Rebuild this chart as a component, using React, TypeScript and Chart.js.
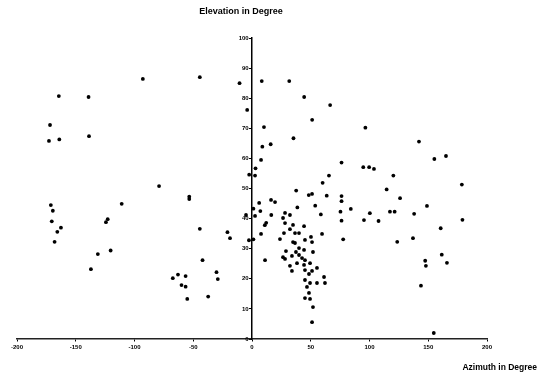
import React, { useEffect, useRef } from "react";
import { Chart, registerables } from "chart.js";

Chart.register(...registerables);

const chartTitle = "Elevation in Degree";
const xAxisTitle = "Azimuth in Degree";

const azimuth: number[] = [
  -92.9, -44.4, -10.6, 8.3, 31.7, -164.4, -139.1, 44.4, 66.5, -4.1,
  51.2, -171.9, 10.2, 96.5, -138.7, 35.3, -172.8, -164.0, 142.1, 15.9,
  8.8, 165.1, 155.2, 7.7, 76.2, 94.7, 99.7, 103.8, 3.0, -2.4,
  2.6, 65.5, 120.3, 60.1, 178.6, -79.1, 37.6, 114.6, -53.4, -53.4,
  51.1, 48.3, 63.6, 76.2, 76.2, 16.2, 19.6, 6.1, 126.0, -171.2,
  -110.9, 53.8, 148.9, 1.2, 38.6, 84.1, -169.5, 7.1, 75.3, 117.4,
  121.4, 100.3, 138.0, 58.6, -5.1, 2.6, 16.4, -122.8, -124.3, -170.4,
  76.2, 95.3, 107.7, 179.1, 12.1, 10.9, -162.6, -165.7, -44.4, 160.6,
  -20.9, -18.7, 7.7, -2.6, 1.2, 77.6, 123.6, 137.0, -168.0, -131.2,
  -120.3, -137.1, -42.1, -30.2, -29.1, -67.4, -63.0, -56.5, -60.0, -56.5,
  -55.1, -37.3, 11.1, 147.4, 148.0, 161.5, 165.9, 143.8, 154.7, 28.1,
  32.3, 26.4, 28.1, 34.9, 44.3, 27.2, 32.3, 36.6, 40.0, 59.6,
  23.8, 34.9, 45.1, 50.2, 51.1, 36.6, 40.0, 28.9, 37.4, 44.3,
  51.9, 26.4, 34.0, 40.0, 42.6, 28.1, 45.1, 32.3, 38.3, 44.3,
  49.4, 55.3, 34.0, 45.1, 51.1, 48.5, 61.3, 62.1, 45.1, 49.4,
  55.3, 46.8, 45.1, 49.4, 48.5, 51.9, 51.1,
];

const elevation: number[] = [
  86.4, 87.0, 85.0, 85.7, 85.7, 80.7, 80.4, 80.4, 77.7, 76.1,
  72.8, 71.1, 70.4, 70.2, 67.4, 66.7, 65.8, 66.3, 65.6, 64.7,
  63.9, 60.8, 59.8, 59.5, 58.6, 57.1, 57.1, 56.5, 56.7, 54.6,
  54.3, 54.3, 54.3, 51.9, 51.3, 50.8, 49.3, 49.7, 47.3, 46.5,
  48.2, 47.8, 47.6, 47.5, 45.8, 46.2, 45.5, 45.2, 46.8, 44.5,
  44.9, 44.3, 44.2, 43.3, 43.7, 43.2, 42.6, 42.5, 42.3, 42.3,
  42.3, 41.8, 41.6, 41.4, 41.2, 40.9, 41.2, 39.8, 38.8, 39.1,
  39.3, 39.5, 39.2, 39.6, 38.6, 37.8, 37.0, 35.6, 36.6, 36.8,
  35.5, 33.5, 34.9, 32.8, 33.1, 33.1, 32.3, 33.5, 32.3, 28.2,
  29.4, 23.2, 26.2, 22.2, 19.9, 20.2, 21.4, 20.9, 17.9, 17.4,
  13.3, 14.1, 26.2, 26.0, 24.3, 28.0, 25.3, 17.7, 2.0, 41.9,
  41.2, 40.2, 38.5, 37.9, 37.5, 35.2, 36.5, 35.2, 35.2, 34.9,
  33.2, 32.2, 32.9, 33.9, 32.2, 31.9, 30.2, 29.2, 28.9, 29.6,
  28.9, 27.2, 27.6, 27.9, 26.9, 26.6, 26.2, 24.3, 25.2, 24.6,
  25.2, 23.6, 22.6, 22.9, 22.6, 21.6, 20.6, 18.6, 19.6, 18.6,
  18.6, 17.3, 13.6, 13.3, 15.3, 10.6, 5.6,
];

const xMin = -200;
const xMax = 200;
const xStep = 50;
const yMin = 0;
const yMax = 100;
const yStep = 10;

const FONT = '"Liberation Sans", Arial, sans-serif';

const axisTextPlugin = {
  id: "axisTexts",
  afterDraw(chart: any) {
    const ctx = chart.ctx;
    ctx.save();
    ctx.fillStyle = "#000";
    ctx.font = `bold 9px ${FONT}`;
    ctx.textAlign = "center";
    ctx.textBaseline = "middle";
    ctx.fillText(chartTitle, 241, 12);
    ctx.font = `bold 8.5px ${FONT}`;
    ctx.textAlign = "right";
    ctx.fillText(xAxisTitle, 537, 368);
    ctx.restore();
  },
};

export default function App() {
  const canvasRef = useRef<HTMLCanvasElement | null>(null);

  useEffect(() => {
    if (!canvasRef.current) return;
    const points = azimuth.map((a, i) => ({ x: a, y: elevation[i] }));
    const chart = new Chart(canvasRef.current, {
      type: "scatter",
      data: {
        datasets: [
          {
            data: points,
            backgroundColor: "#000",
            borderColor: "#000",
            borderWidth: 0,
            pointRadius: 1.9,
            pointStyle: "circle",
          },
        ],
      },
      plugins: [axisTextPlugin],
      options: {
        animation: false,
        responsive: false,
        devicePixelRatio: 1,
        layout: { padding: { left: 17, right: 55, top: 38, bottom: 36 } },
        plugins: {
          legend: { display: false },
          tooltip: { enabled: false },
          title: { display: false },
        },
        scales: {
          x: {
            type: "linear",
            min: xMin,
            max: xMax,
            position: { y: 0 } as any,
            grid: {
              display: true,
              drawOnChartArea: false,
              drawTicks: true,
              tickLength: 2,
              color: "#000",
            },
            border: { display: true, color: "#222", width: 1.5 },
            ticks: {
              stepSize: xStep,
              padding: 3,
              color: "#000",
              font: { family: FONT, size: 6, weight: "bold" },
              maxRotation: 0,
            },
          },
          y: {
            type: "linear",
            min: yMin,
            max: yMax,
            position: { x: 0 } as any,
            grid: {
              display: true,
              drawOnChartArea: false,
              drawTicks: true,
              tickLength: 2,
              color: "#000",
            },
            border: { display: true, color: "#000", width: 1.5 },
            ticks: {
              stepSize: yStep,
              color: "#000",
              font: { family: FONT, size: 6, weight: "bold" },
              callback: (v: any) => `${v}  `,
            },
          },
        },
      },
    });
    return () => chart.destroy();
  }, []);

  return (
    <div style={{ position: "fixed", left: 0, top: 0, width: 542, height: 375, background: "#fff" }}>
      <canvas ref={canvasRef} width={542} height={375} style={{ display: "block" }} />
    </div>
  );
}
